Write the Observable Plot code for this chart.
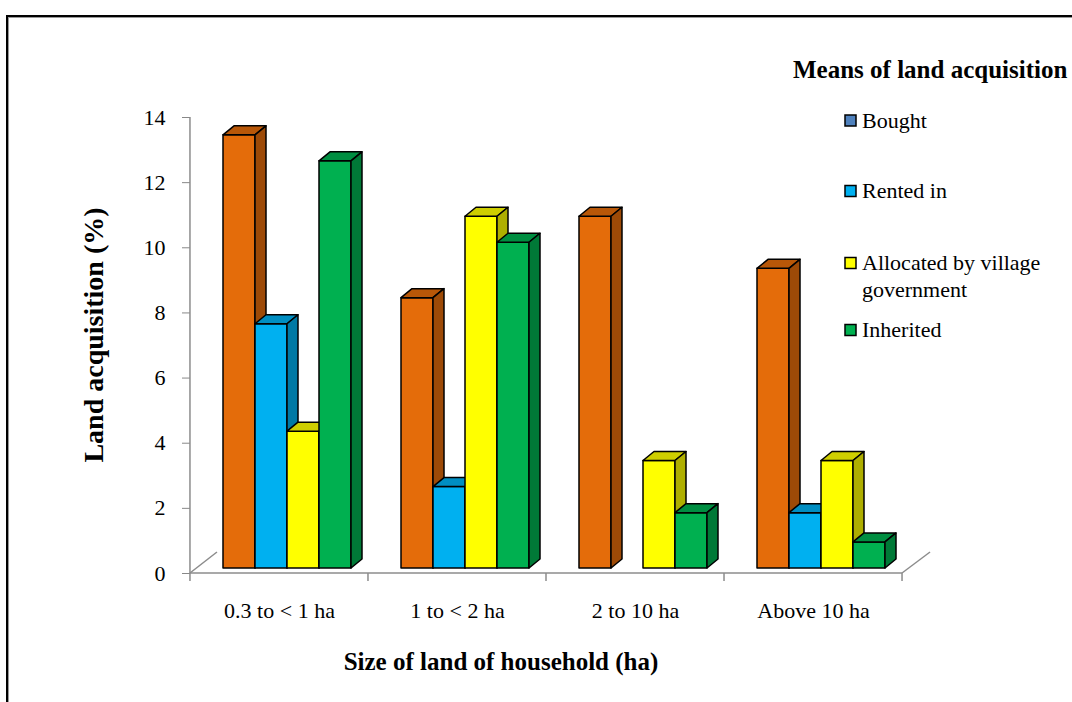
<!DOCTYPE html>
<html>
<head>
<meta charset="utf-8">
<script src="https://cdn.jsdelivr.net/npm/d3@7"></script>
<script src="https://cdn.jsdelivr.net/npm/@observablehq/plot@0.6"></script>
<style>
html, body { margin: 0; padding: 0; background: #fff; overflow: hidden; }
#wrap { position: relative; width: 1072px; height: 702px; overflow: hidden; }
#frame { position: absolute; left: 6px; top: 15px; width: 1200px; height: 900px;
  border-top: 2.5px solid #000; border-left: 2.5px solid #000; box-shadow: inset 1px 1px 0 #999; }
#chart { position: absolute; left: 0; top: 0; }
</style>
</head>
<body>
<div id="wrap"><div id="frame"></div><div id="chart"></div></div>
<script>
// ---- data ----
const categories = ["0.3 to < 1 ha", "1 to < 2 ha", "2 to 10 ha", "Above 10 ha"];
const seriesNames = ["Bought", "Rented in", "Allocated by village government", "Inherited"];
const bought    = [13.3, 8.3, 10.8, 9.2];
const rentedIn  = [7.5, 2.5, 0, 1.7];
const allocated = [4.2, 10.8, 3.3, 3.3];
const inherited = [12.5, 10.0, 1.7, 0.8];
const barColors = ["#E46C0A", "#00B0F0", "#FFFF00", "#00B050"];
const legendColors = ["#4F81BD", "#00B0F0", "#FFFF00", "#00B050"];
const legendLines = [["Bought"], ["Rented in"], ["Allocated by village", "government"], ["Inherited"]];
const yTicks = [0, 2, 4, 6, 8, 10, 12, 14];
const yTitle = "Land acquisition (%)";
const xTitle = "Size of land of household (ha)";
const legendTitle = "Means of land acquisition";

const seriesValues = [bought, rentedIn, allocated, inherited];
const rows = categories.flatMap((c, i) =>
  seriesNames.map((s, j) => ({category: c, series: s, value: seriesValues[j][i]})));

const FONT = "'Liberation Serif', 'Times New Roman', serif";
const PAD_IN = 0.27;

const plot = Plot.plot({
  width: 1072,
  height: 702,
  marginLeft: 214,
  marginRight: 194,
  marginTop: 117,
  marginBottom: 129,
  style: {fontFamily: FONT, fontSize: "22px", color: "#888", background: "transparent", overflow: "visible"},
  facet: {data: rows, x: "category"},
  fx: {domain: categories, paddingInner: PAD_IN, paddingOuter: 0, label: null, tickSize: 0, tickPadding: 29, axis: "bottom"},
  x: {domain: seriesNames, padding: 0, axis: null},
  y: {domain: [0, 14], label: null, axis: null},
  color: {domain: seriesNames, range: barColors},
  marks: [
    Plot.axisY({ticks: yTicks, tickSize: 8, tickPadding: 17, dx: -24, label: null}),
    Plot.barY(rows, {
      filter: d => d.value > 0,
      x: "series", y: "value", fill: "series",
      stroke: "#000", strokeWidth: 1.5, dx: 8, dy: -5,
      ariaLabel: "bar3d"
    })
  ]
});

document.getElementById("chart").appendChild(plot);
const svg = plot.tagName.toLowerCase() === "svg" ? plot : plot.querySelector("svg");
const S = d3.select(svg);
S.selectAll("text").attr("fill", "#000");

// ---- 3D faces built from the rendered bars ----
const DX = 11, DY = 9;
const ns = "http://www.w3.org/2000/svg";
const colorSet = new Set(barColors.map(c => d3.color(c).formatHex()));
const barRects = Array.from(svg.querySelectorAll("rect")).filter(r => {
  const f = r.getAttribute("fill");
  return f && d3.color(f) && colorSet.has(d3.color(f).formatHex());
});
for (const r of barRects) {
  const g = r.parentNode;
  g.setAttribute("stroke-linejoin", "round");
  const x = +r.getAttribute("x"), y = +r.getAttribute("y");
  const w = +r.getAttribute("width"), h = +r.getAttribute("height");
  const c = d3.color(r.getAttribute("fill"));
  const top = document.createElementNS(ns, "polygon");
  top.setAttribute("points", `${x},${y} ${x + DX},${y - DY} ${x + w + DX},${y - DY} ${x + w},${y}`);
  top.setAttribute("fill", c.darker(0.6).formatHex());
  const side = document.createElementNS(ns, "polygon");
  side.setAttribute("points", `${x + w},${y} ${x + w + DX},${y - DY} ${x + w + DX},${y + h - DY} ${x + w},${y + h}`);
  side.setAttribute("fill", c.darker(1.05).formatHex());
  const next = r.nextSibling;
  g.insertBefore(top, next);
  g.insertBefore(side, next);
}

// ---- floor / axis lines from the plot's scales ----
const yS = plot.scale("y");
const ys = yS.apply ? (v => yS.apply(v)) : d3.scaleLinear(yS.domain, yS.range);
const fxS = plot.scale("fx");
const [f0, f1] = fxS.range;
const n = fxS.domain.length;
const pi = fxS.paddingInner ?? PAD_IN;
const step = (f1 - f0) / (n - pi);
const r0 = f0 - pi * step / 2, r1 = f1 + pi * step / 2;
const y0 = ys(0);
const deco = S.append("g").attr("stroke", "#8c8c8c").attr("stroke-width", 1.5).attr("fill", "none");
deco.append("line").attr("x1", r0).attr("x2", r1).attr("y1", y0).attr("y2", y0);
deco.append("line").attr("x1", r0).attr("x2", r0).attr("y1", y0).attr("y2", ys(14));
deco.append("line").attr("x1", r0).attr("y1", y0).attr("x2", r0 + 27).attr("y2", y0 - 21);
deco.append("line").attr("x1", r1).attr("y1", y0).attr("x2", r1 + 28).attr("y2", y0 - 21);
for (let i = 0; i <= n; i++) {
  const bx = r0 + i * step;
  deco.append("line").attr("x1", bx).attr("x2", bx).attr("y1", y0).attr("y2", y0 + 8);
}

// ---- axis titles ----
S.append("text").attr("transform", `translate(93,335) rotate(-90)`)
  .attr("text-anchor", "middle").attr("dominant-baseline", "central")
  .attr("font-family", FONT).attr("font-size", 28).attr("font-weight", "bold").attr("fill", "#000")
  .text(yTitle);
S.append("text").attr("x", 501).attr("y", 670)
  .attr("text-anchor", "middle")
  .attr("font-family", FONT).attr("font-size", 25).attr("font-weight", "bold").attr("fill", "#000")
  .text(xTitle);

// ---- legend ----
const lg = S.append("g").attr("font-family", FONT).attr("fill", "#000").attr("text-anchor", "start");
lg.append("text").attr("x", 793).attr("y", 78).attr("font-size", 25).attr("font-weight", "bold").text(legendTitle);
const itemBaselines = [127.5, 198, 270, 337];
legendLines.forEach((lines, i) => {
  const b = itemBaselines[i];
  lg.append("rect").attr("x", 845).attr("y", b - 12.5).attr("width", 11).attr("height", 11)
    .attr("fill", legendColors[i]).attr("stroke", "#000").attr("stroke-width", 1.5);
  lines.forEach((t, k) => {
    lg.append("text").attr("x", 862).attr("y", b + k * 27).attr("font-size", 22).text(t);
  });
});
</script>
</body>
</html>
